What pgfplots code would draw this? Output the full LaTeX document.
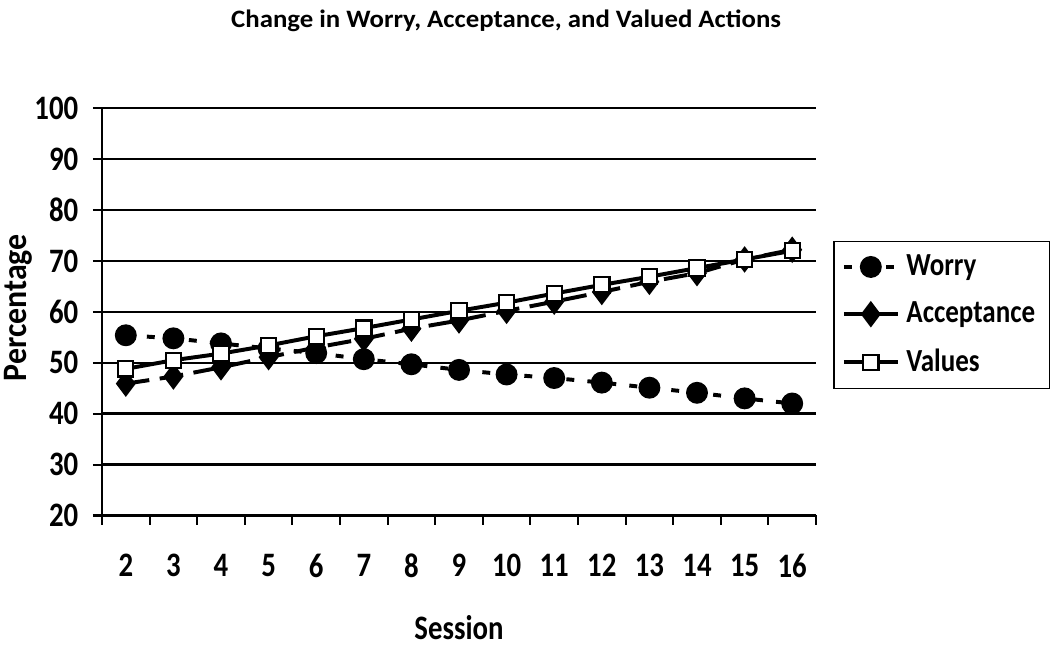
\documentclass[border=0pt]{standalone}
\usepackage{pgfplots}
\pgfplotsset{compat=1.18}
\usepackage{fontspec}
\setmainfont[FakeStretch=0.84]{Carlito}
\newfontfamily\titlefont[FakeStretch=1.07]{Carlito}
\newfontfamily\ylabfont[FakeStretch=0.93]{Carlito}

\pgfplotstableread{
s  worry accept values
2  55.4  45.9   48.8
3  54.8  47.3   50.5
4  53.8  49.1   51.8
5  52.8  51.1   53.4
6  51.9  53.0   55.2
7  50.7  54.7   56.8
8  49.7  56.7   58.5
9  48.6  58.3   60.2
10 47.7  60.2   61.8
11 47.0  62.0   63.6
12 46.1  63.9   65.3
13 45.1  65.9   66.9
14 44.1  67.6   68.6
15 43.0  70.3   70.3
16 42.0  72.2   72.0
}\sessions

\begin{document}
\begin{tikzpicture}
\path[use as bounding box] (0,0) rectangle (14cm,8.653cm);
\begin{axis}[
  scale only axis,
  width=9.52cm, height=5.43cm,
  at={(1.36cm,1.78cm)}, anchor=south west,
  font=\bfseries\fontsize{13}{15}\selectfont,
  xmin=1.5, xmax=16.5,
  ymin=20, ymax=100,
  xtick={1.5,2.5,...,16.5},
  xticklabels={},
  x tick style={line width=0.8pt, black},
  extra x ticks={2,...,16},
  extra x tick style={major tick length=0pt, grid=none,
    xticklabel style={yshift=-11pt}},
  ytick={20,30,...,100},
  y tick style={line width=0.8pt, black},
  major tick length=3.5pt,
  tick align=outside,
  axis x line*=bottom,
  axis y line*=left,
  axis line style={line width=0.9pt, -},
  ymajorgrids,
  grid style={line width=0.9pt, black},
  /pgf/number format/assume math mode=true,
  yticklabel style={xshift=-2pt},
  title={\titlefont\bfseries\fontsize{9.5}{11}\selectfont Change in Worry, Acceptance, and Valued Actions},
  title style={at={(0.566,1.175)}, anchor=center},
  xlabel={Session},
  xlabel style={at={(0.5,-0.275)}, anchor=center},
  ylabel={\ylabfont\bfseries Percentage},
  ylabel style={at={(-0.117,0.51)}, anchor=center},
  legend style={at={(1.024,0.675)}, anchor=north west, draw=black, line width=0.6pt,
    font=\bfseries\fontsize{12.2}{15}\selectfont, row sep=4.5pt, inner sep=3pt,
    nodes={inner xsep=2.5pt}},
  legend cell align=left,
  legend image code/.code={
    \draw[mark repeat=2,mark phase=2] plot coordinates {(0cm,0cm) (0.36cm,0cm) (0.72cm,0cm)};
  },
]
\addplot[black, line width=1.5pt, dash pattern=on 3pt off 5pt,
  mark=*, mark size=3.4pt, mark options={solid, fill=black}]
  table[x=s, y=worry] {\sessions};
\addlegendentry{Worry}
\addplot[black, line width=1.5pt, dash pattern=on 9pt off 4pt,
  mark=diamond*, mark size=3.8pt, mark options={solid, fill=black}]
  table[x=s, y=accept] {\sessions};
\addlegendentry{Acceptance}
\addplot[black, line width=1.5pt,
  mark=square*, mark size=2.9pt, mark options={solid, fill=white, line width=0.8pt}]
  table[x=s, y=values] {\sessions};
\addlegendentry{Values}
\end{axis}
\end{tikzpicture}
\end{document}
